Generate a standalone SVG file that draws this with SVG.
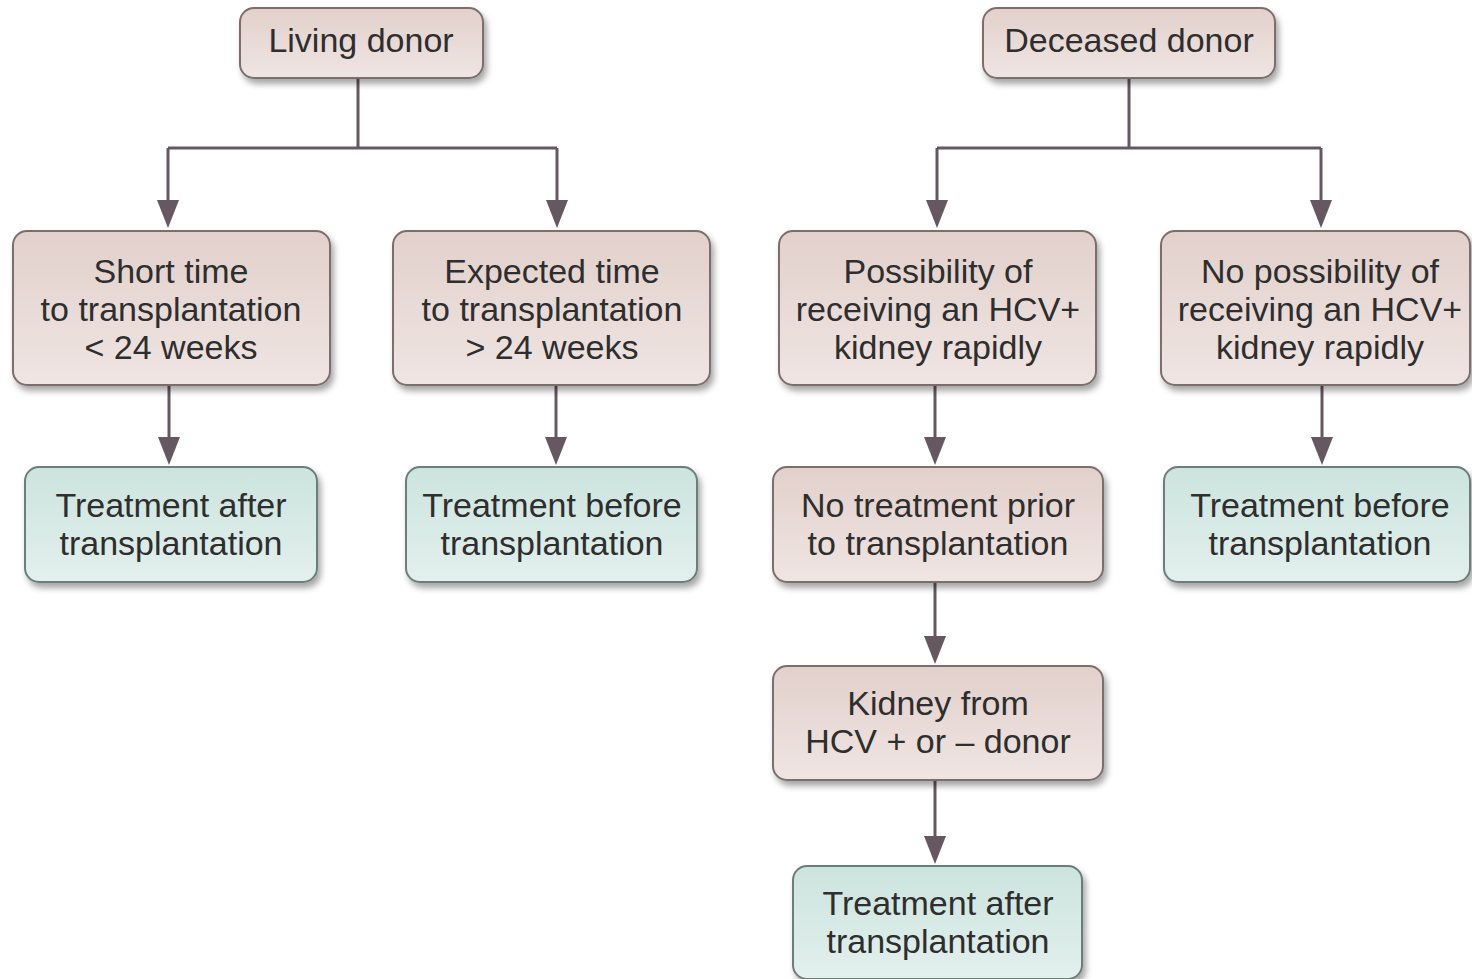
<svg xmlns="http://www.w3.org/2000/svg" width="1472" height="979" viewBox="0 0 1472 979">
<defs>
<linearGradient id="gp" x1="0" y1="0" x2="0" y2="1">
<stop offset="0" stop-color="#e2d0cb"/>
<stop offset="1" stop-color="#efe5e3"/>
</linearGradient>
<linearGradient id="gt" x1="0" y1="0" x2="0" y2="1">
<stop offset="0" stop-color="#cce4de"/>
<stop offset="1" stop-color="#e3f0ed"/>
</linearGradient>
<filter id="sh" x="-10%" y="-10%" width="125%" height="130%">
<feDropShadow dx="3" dy="5" stdDeviation="3" flood-color="#000" flood-opacity="0.35"/>
</filter>
</defs>
<style>
.p{fill:url(#gp);stroke:#7d6e6e;stroke-width:2;filter:url(#sh)}
.t{fill:url(#gt);stroke:#6c7e7a;stroke-width:2;filter:url(#sh)}
text{font-family:"Liberation Sans",Arial,sans-serif;font-size:34px;fill:#2e2e2e;text-anchor:middle}
.c{fill:none;stroke:#655860;stroke-width:3}
.a{fill:#655860}
</style>
<rect width="1472" height="979" fill="#fff"/>
<g id="connectors">
<path class="c" d="M358,78 V148 M168,148 H557"/>
<path class="c" d="M168,148 V200"/>
<path class="c" d="M557,148 V200"/>
<path class="a" d="M157,200 H179 L168,228 Z"/>
<path class="a" d="M546,200 H568 L557,228 Z"/>
<path class="c" d="M1129,78 V148 M937,148 H1321"/>
<path class="c" d="M937,148 V200"/>
<path class="c" d="M1321,148 V200"/>
<path class="a" d="M926,200 H948 L937,228 Z"/>
<path class="a" d="M1310,200 H1332 L1321,228 Z"/>
<path class="c" d="M169,385 V437"/>
<path class="a" d="M158,437 H180 L169,465 Z"/>
<path class="c" d="M556,385 V437"/>
<path class="a" d="M545,437 H567 L556,465 Z"/>
<path class="c" d="M935,385 V437"/>
<path class="a" d="M924,437 H946 L935,465 Z"/>
<path class="c" d="M1322,385 V437"/>
<path class="a" d="M1311,437 H1333 L1322,465 Z"/>
<path class="c" d="M935,582 V636"/>
<path class="a" d="M924,636 H946 L935,664 Z"/>
<path class="c" d="M935,780 V836"/>
<path class="a" d="M924,836 H946 L935,864 Z"/>
</g>
<g id="n-living">
<rect class="p" x="240" y="8" width="243" height="70" rx="14"/>
<text x="361" y="52">Living donor</text>
</g>
<g id="n-deceased">
<rect class="p" x="983" y="8" width="292" height="70" rx="14"/>
<text x="1129" y="52">Deceased donor</text>
</g>
<g id="n-short">
<rect class="p" x="13" y="231" width="317" height="154" rx="14"/>
<text x="171" y="283">Short time</text>
<text x="171" y="321">to transplantation</text>
<text x="171" y="359">&lt; 24 weeks</text>
</g>
<g id="n-expected">
<rect class="p" x="393" y="231" width="317" height="154" rx="14"/>
<text x="552" y="283">Expected time</text>
<text x="552" y="321">to transplantation</text>
<text x="552" y="359">&gt; 24 weeks</text>
</g>
<g id="n-possibility">
<rect class="p" x="779" y="231" width="317" height="154" rx="14"/>
<text x="938" y="283">Possibility of</text>
<text x="938" y="321">receiving an HCV+</text>
<text x="938" y="359">kidney rapidly</text>
</g>
<g id="n-nopossibility">
<rect class="p" x="1161" y="231" width="309" height="154" rx="14"/>
<text x="1320" y="283">No possibility of</text>
<text x="1320" y="321">receiving an HCV+</text>
<text x="1320" y="359">kidney rapidly</text>
</g>
<g id="n-after-left">
<rect class="t" x="25" y="467" width="292" height="115" rx="14"/>
<text x="171" y="517">Treatment after</text>
<text x="171" y="555">transplantation</text>
</g>
<g id="n-before-mid">
<rect class="t" x="406" y="467" width="291" height="115" rx="14"/>
<text x="552" y="517">Treatment before</text>
<text x="552" y="555">transplantation</text>
</g>
<g id="n-notreatment">
<rect class="p" x="773" y="467" width="330" height="115" rx="14"/>
<text x="938" y="517">No treatment prior</text>
<text x="938" y="555">to transplantation</text>
</g>
<g id="n-before-right">
<rect class="t" x="1164" y="467" width="306" height="115" rx="14"/>
<text x="1320" y="517">Treatment before</text>
<text x="1320" y="555">transplantation</text>
</g>
<g id="n-kidney">
<rect class="p" x="773" y="666" width="330" height="114" rx="14"/>
<text x="938" y="715">Kidney from</text>
<text x="938" y="753">HCV + or – donor</text>
</g>
<g id="n-after-bottom">
<rect class="t" x="793" y="866" width="289" height="113" rx="14"/>
<text x="938" y="915">Treatment after</text>
<text x="938" y="953">transplantation</text>
</g>
</svg>
